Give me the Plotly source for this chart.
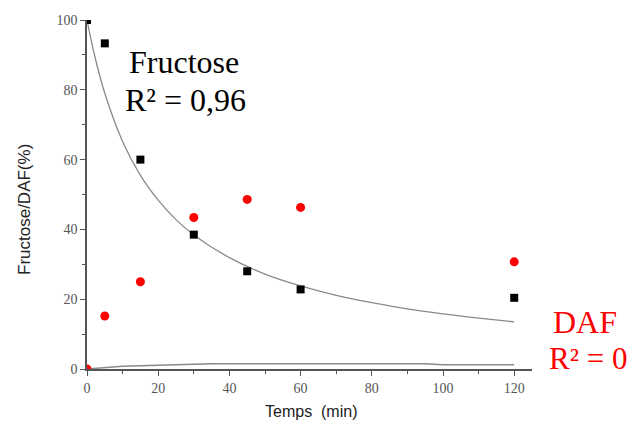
import plotly.graph_objects as go

# Data
temps = [0, 5, 15, 30, 45, 60, 120]
fructose = [100, 93.3, 60, 38.5, 28, 22.8, 20.4]
daf = [0, 15.2, 25, 43.4, 48.6, 46.3, 30.7]

fit_fru_t = [0, 2, 5, 10, 15, 20, 25, 30, 40, 50, 60, 70, 80, 90, 100, 110, 120]
fit_fru_y = [100, 90.4, 79, 65.2, 55.5, 48.4, 42.8, 38.4, 31.9, 27.2, 23.8, 21.1, 19.0, 17.2, 15.8, 14.6, 13.5]

fit_daf_t = [0, 10, 20, 35, 95, 100, 120]
fit_daf_y = [0, 0.8, 1.1, 1.5, 1.5, 1.2, 1.2]

x_ticks = [0, 20, 40, 60, 80, 100, 120]
y_ticks = [0, 20, 40, 60, 80, 100]

fig = go.Figure()
fig.add_trace(go.Scatter(x=fit_fru_t, y=fit_fru_y, mode="lines",
                         line=dict(color="#8a8a8a", width=1.3, shape="spline"),
                         showlegend=False, hoverinfo="skip"))
fig.add_trace(go.Scatter(x=fit_daf_t, y=fit_daf_y, mode="lines",
                         line=dict(color="#8a8a8a", width=1.5),
                         showlegend=False, hoverinfo="skip"))
fig.add_trace(go.Scatter(x=temps, y=fructose, mode="markers", cliponaxis=True,
                         marker=dict(symbol="square", color="black", size=8),
                         showlegend=False))
fig.add_trace(go.Scatter(x=temps, y=daf, mode="markers", cliponaxis=True,
                         marker=dict(symbol="circle", color="#ff0000", size=9),
                         showlegend=False))

tick_font = dict(family="Liberation Serif, Times New Roman, serif", size=14, color="#555555")
axis_common = dict(
    showgrid=False, zeroline=False, showline=True, linecolor="#555555", linewidth=1.5,
    ticks="outside", ticklen=5, tickwidth=1.2, tickcolor="#555555",
    tickfont=tick_font, automargin=False,
    minor=dict(ticks="outside", ticklen=3, tickwidth=1, tickcolor="#555555", dtick=10),
)
fig.update_xaxes(range=[0, 125], tickvals=x_ticks, **axis_common)
fig.update_yaxes(range=[0, 100], tickvals=y_ticks, **axis_common)

L, T, W, H = 87, 20, 445, 349
FIG_W, FIG_H = 630, 421

def px(x, y):
    # page pixel -> paper coords
    return (x - L) / W, (T + H - y) / H

title_family = "Liberation Sans, Arial, sans-serif"
ann_family = "Liberation Serif, Times New Roman, serif"

ax, ay = px(311, 411)
fig.add_annotation(xref="paper", yref="paper", x=ax, y=ay, text="Temps&nbsp;&nbsp;(min)",
                   showarrow=False, xanchor="center", yanchor="middle",
                   font=dict(family=title_family, size=16, color="#222222"))
ax, ay = px(24, 210)
fig.add_annotation(xref="paper", yref="paper", x=ax, y=ay, text="Fructose/DAF(%)", textangle=-90,
                   showarrow=False, xanchor="center", yanchor="middle",
                   font=dict(family=title_family, size=17, color="#222222"))

for text, (cx, cy), col, sz in [
    ("Fructose", (184, 62), "black", 32),
    ("R² = 0,96", (185, 100), "black", 32),
    ("DAF", (585, 322), "#ff0000", 32),
    ("R² = 0", (588, 358), "#ff0000", 31),
]:
    ax, ay = px(cx, cy)
    fig.add_annotation(xref="paper", yref="paper", x=ax, y=ay, text=text,
                       showarrow=False, xanchor="center", yanchor="middle",
                       font=dict(color=col, family=ann_family, size=sz))

fig.update_layout(width=FIG_W, height=FIG_H,
                  margin=dict(l=L, r=FIG_W - L - W, t=T, b=FIG_H - T - H),
                  plot_bgcolor="white", paper_bgcolor="white")

fig.write_html("out.html", config={"displayModeBar": False},
               post_script="document.body.style.margin='0';document.body.style.overflow='hidden';"
                           "document.documentElement.style.overflow='hidden';")
